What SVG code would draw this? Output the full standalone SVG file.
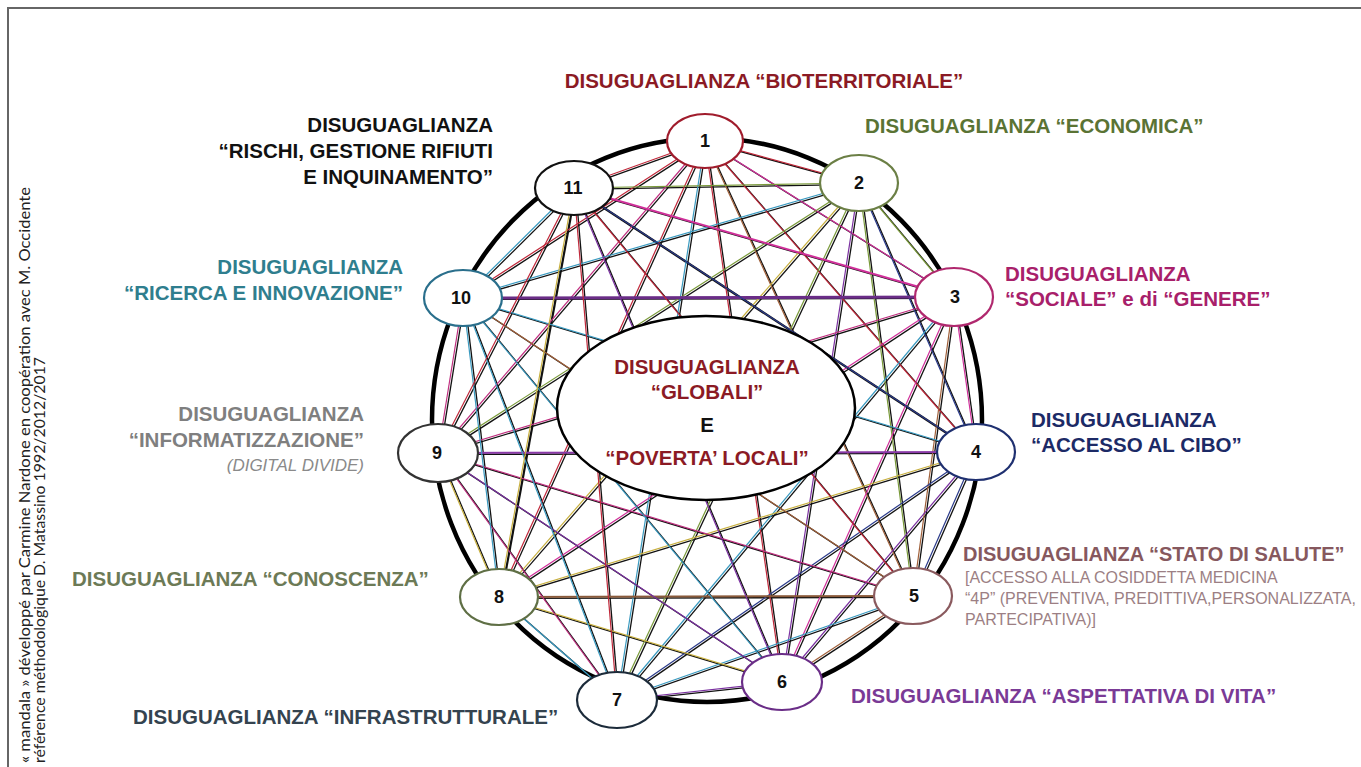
<svg xmlns="http://www.w3.org/2000/svg" width="1361" height="767" viewBox="0 0 1361 767">
<style>
.lbl{font-family:"Liberation Sans",Arial,sans-serif;font-weight:bold;font-size:20.5px}
.sub{font-family:"Liberation Sans",Arial,sans-serif;font-size:16px}
.num{font-family:"Liberation Sans",Arial,sans-serif;font-weight:bold;font-size:18px;fill:#111;text-anchor:middle}
.node{fill:#fff;stroke-width:2.2}
.credit{font-family:Lato,"Open Sans",sans-serif;font-size:15.5px;fill:#222}
#colored line{stroke-width:1.2;fill:none}
#black line{stroke:#111;stroke-width:1.3;fill:none}
.cr{stroke:#c0283a}.cg{stroke:#7a9a3a}.cm{stroke:#d0309a}.cn{stroke:#2a3a8a}.cb{stroke:#a0603a}
.cp{stroke:#7a30a0}.ct{stroke:#3a9ac0}.cy{stroke:#c8b040}.ck{stroke:#c03080}
</style>
<rect x="0" y="0" width="1361" height="767" fill="#fff"/>
<path d="M8 767 V8 H1361" fill="none" stroke="#666" stroke-width="2"/>

<g id="credit">
<text class="credit" transform="translate(30,763) rotate(-90)" textLength="576" lengthAdjust="spacingAndGlyphs">« mandala » développé par Carmine Nardone en coopération avec M. Occidente</text>
<text class="credit" transform="translate(45,763) rotate(-90)" textLength="406" lengthAdjust="spacingAndGlyphs">référence méthodologique D. Matassino 1992/2012/2017</text>
</g>

<ellipse id="ring" cx="707" cy="420" rx="275" ry="282" fill="none" stroke="#000" stroke-width="4.5"/>

<g id="connectors">
<g id="black" transform="translate(1.8,1.4)">
<line x1="705" y1="141" x2="859" y2="183"/><line x1="705" y1="141" x2="954" y2="297"/><line x1="705" y1="141" x2="976" y2="452"/><line x1="705" y1="141" x2="913" y2="596"/><line x1="705" y1="141" x2="782" y2="682"/><line x1="705" y1="141" x2="617" y2="700"/><line x1="705" y1="141" x2="499" y2="597"/><line x1="705" y1="141" x2="438" y2="453"/><line x1="705" y1="141" x2="463" y2="298"/><line x1="705" y1="141" x2="574" y2="188"/>
<line x1="859" y1="183" x2="954" y2="297"/><line x1="859" y1="183" x2="976" y2="452"/><line x1="859" y1="183" x2="913" y2="596"/><line x1="859" y1="183" x2="782" y2="682"/><line x1="859" y1="183" x2="617" y2="700"/><line x1="859" y1="183" x2="499" y2="597"/><line x1="859" y1="183" x2="438" y2="453"/><line x1="859" y1="183" x2="463" y2="298"/><line x1="859" y1="183" x2="574" y2="188"/>
<line x1="954" y1="297" x2="976" y2="452"/><line x1="954" y1="297" x2="913" y2="596"/><line x1="954" y1="297" x2="782" y2="682"/><line x1="954" y1="297" x2="617" y2="700"/><line x1="954" y1="297" x2="499" y2="597"/><line x1="954" y1="297" x2="438" y2="453"/><line x1="954" y1="297" x2="463" y2="298"/><line x1="954" y1="297" x2="574" y2="188"/>
<line x1="976" y1="452" x2="913" y2="596"/><line x1="976" y1="452" x2="782" y2="682"/><line x1="976" y1="452" x2="617" y2="700"/><line x1="976" y1="452" x2="499" y2="597"/><line x1="976" y1="452" x2="438" y2="453"/><line x1="976" y1="452" x2="463" y2="298"/><line x1="976" y1="452" x2="574" y2="188" style="stroke-width:2.4"/>
<line x1="913" y1="596" x2="782" y2="682"/><line x1="913" y1="596" x2="617" y2="700"/><line x1="913" y1="596" x2="499" y2="597"/><line x1="913" y1="596" x2="438" y2="453"/><line x1="913" y1="596" x2="463" y2="298"/><line x1="913" y1="596" x2="574" y2="188"/>
<line x1="782" y1="682" x2="617" y2="700"/><line x1="782" y1="682" x2="499" y2="597"/><line x1="782" y1="682" x2="438" y2="453"/><line x1="782" y1="682" x2="463" y2="298"/><line x1="782" y1="682" x2="574" y2="188"/>
<line x1="617" y1="700" x2="499" y2="597"/><line x1="617" y1="700" x2="438" y2="453"/><line x1="617" y1="700" x2="463" y2="298"/><line x1="617" y1="700" x2="574" y2="188"/>
<line x1="499" y1="597" x2="438" y2="453"/><line x1="499" y1="597" x2="463" y2="298"/><line x1="499" y1="597" x2="574" y2="188" style="stroke-width:2.2"/>
<line x1="438" y1="453" x2="463" y2="298"/><line x1="438" y1="453" x2="574" y2="188"/>
<line x1="463" y1="298" x2="574" y2="188"/>
</g>
<g id="colored">
<line class="cr" x1="705" y1="141" x2="859" y2="183"/><line class="cm" x1="705" y1="141" x2="954" y2="297"/><line class="cr" x1="705" y1="141" x2="976" y2="452"/><line class="cb" x1="705" y1="141" x2="913" y2="596"/><line class="cr" x1="705" y1="141" x2="782" y2="682"/><line class="ct" x1="705" y1="141" x2="617" y2="700"/><line class="cr" x1="705" y1="141" x2="499" y2="597"/><line class="ck" x1="705" y1="141" x2="438" y2="453"/><line class="cr" x1="705" y1="141" x2="463" y2="298"/><line class="cr" x1="705" y1="141" x2="574" y2="188"/>
<line class="cg" x1="859" y1="183" x2="954" y2="297"/><line class="cn" x1="859" y1="183" x2="976" y2="452"/><line class="cg" x1="859" y1="183" x2="913" y2="596"/><line class="cp" x1="859" y1="183" x2="782" y2="682"/><line class="cg" x1="859" y1="183" x2="617" y2="700"/><line class="cy" x1="859" y1="183" x2="499" y2="597"/><line class="cg" x1="859" y1="183" x2="438" y2="453"/><line class="ct" x1="859" y1="183" x2="463" y2="298"/><line class="cg" x1="859" y1="183" x2="574" y2="188"/>
<line class="cm" x1="954" y1="297" x2="976" y2="452"/><line class="cb" x1="954" y1="297" x2="913" y2="596"/><line class="cm" x1="954" y1="297" x2="782" y2="682"/><line class="ct" x1="954" y1="297" x2="617" y2="700"/><line class="cm" x1="954" y1="297" x2="499" y2="597"/><line class="ck" x1="954" y1="297" x2="438" y2="453"/><line x1="954" y1="297" x2="463" y2="298" style="stroke:#6a2d87;stroke-width:3"/><line class="cm" x1="954" y1="297" x2="574" y2="188" style="stroke-width:2"/>
<line class="cn" x1="976" y1="452" x2="913" y2="596"/><line class="cp" x1="976" y1="452" x2="782" y2="682"/><line class="cn" x1="976" y1="452" x2="617" y2="700"/><line class="cy" x1="976" y1="452" x2="499" y2="597"/><line x1="976" y1="452" x2="438" y2="453" style="stroke:#8a3aa8;stroke-width:2"/><line class="ct" x1="976" y1="452" x2="463" y2="298"/><line class="cn" x1="976" y1="452" x2="574" y2="188"/>
<line class="cb" x1="913" y1="596" x2="782" y2="682"/><line class="ct" x1="913" y1="596" x2="617" y2="700"/><line x1="913" y1="596" x2="499" y2="597" style="stroke:#8a5a3a;stroke-width:2"/><line class="ck" x1="913" y1="596" x2="438" y2="453"/><line class="cb" x1="913" y1="596" x2="463" y2="298"/><line class="cr" x1="913" y1="596" x2="574" y2="188"/>
<line class="cp" x1="782" y1="682" x2="617" y2="700"/><line class="cy" x1="782" y1="682" x2="499" y2="597"/><line class="cp" x1="782" y1="682" x2="438" y2="453"/><line class="ct" x1="782" y1="682" x2="463" y2="298"/><line class="cp" x1="782" y1="682" x2="574" y2="188"/>
<line class="ct" x1="617" y1="700" x2="499" y2="597"/><line class="ck" x1="617" y1="700" x2="438" y2="453"/><line class="ct" x1="617" y1="700" x2="463" y2="298"/><line class="cr" x1="617" y1="700" x2="574" y2="188"/>
<line class="cy" x1="499" y1="597" x2="438" y2="453"/><line class="ct" x1="499" y1="597" x2="463" y2="298"/><line class="cy" x1="499" y1="597" x2="574" y2="188"/>
<line class="ck" x1="438" y1="453" x2="463" y2="298"/><line class="cr" x1="438" y1="453" x2="574" y2="188"/>
<line class="ct" x1="463" y1="298" x2="574" y2="188"/>
</g>
</g>

<g id="center">
<ellipse cx="706" cy="408" rx="149" ry="92" fill="#fff" stroke="#000" stroke-width="2.5"/>
<text class="lbl" x="707" y="374" text-anchor="middle" fill="#8b1a24">DISUGUAGLIANZA</text>
<text class="lbl" x="707" y="399" text-anchor="middle" fill="#8b1a24">“GLOBALI”</text>
<text class="lbl" x="707" y="432" text-anchor="middle" fill="#111">E</text>
<text class="lbl" x="707" y="465" text-anchor="middle" fill="#8b1a24">“POVERTA’ LOCALI”</text>
</g>

<g id="n1"><ellipse class="node" cx="705" cy="141" rx="38" ry="27" stroke="#a01c2c"/><text class="num" x="705" y="147">1</text></g>
<g id="n2"><ellipse class="node" cx="859" cy="183" rx="39" ry="28" stroke="#6b7f45"/><text class="num" x="859" y="189">2</text></g>
<g id="n3"><ellipse class="node" cx="954" cy="297" rx="39" ry="29" stroke="#b0286e"/><text class="num" x="955" y="303">3</text></g>
<g id="n4"><ellipse class="node" cx="976" cy="452" rx="39" ry="28" stroke="#1f3070"/><text class="num" x="976" y="458">4</text></g>
<g id="n5"><ellipse class="node" cx="913" cy="596" rx="39" ry="28" stroke="#8a5a5e"/><text class="num" x="914" y="602">5</text></g>
<g id="n6"><ellipse class="node" cx="782" cy="682" rx="40" ry="28" stroke="#6a2d87"/><text class="num" x="782" y="688">6</text></g>
<g id="n7"><ellipse class="node" cx="617" cy="700" rx="40" ry="28" stroke="#1c2b3a"/><text class="num" x="617" y="706">7</text></g>
<g id="n8"><ellipse class="node" cx="499" cy="597" rx="39" ry="28" stroke="#5f6f45"/><text class="num" x="499" y="603">8</text></g>
<g id="n9"><ellipse class="node" cx="438" cy="453" rx="40" ry="29" stroke="#333"/><text class="num" x="437" y="459">9</text></g>
<g id="n10"><ellipse class="node" cx="463" cy="298" rx="39" ry="28" stroke="#2a6f8c"/><text class="num" x="461" y="304">10</text></g>
<g id="n11"><ellipse class="node" cx="574" cy="188" rx="39" ry="27" stroke="#111"/><text class="num" x="573" y="194">11</text></g>

<g id="labels">
<text class="lbl" x="764" y="88" text-anchor="middle" fill="#8b1a24">DISUGUAGLIANZA “BIOTERRITORIALE”</text>
<text class="lbl" x="865" y="133" fill="#5a7334">DISUGUAGLIANZA “ECONOMICA”</text>
<text class="lbl" text-anchor="end" fill="#111"><tspan x="493" y="132">DISUGUAGLIANZA</tspan><tspan x="493" y="158">“RISCHI, GESTIONE RIFIUTI</tspan><tspan x="493" y="184">E INQUINAMENTO”</tspan></text>
<text class="lbl" text-anchor="end" fill="#2f7e8e"><tspan x="403" y="274">DISUGUAGLIANZA</tspan><tspan x="403" y="300">“RICERCA E INNOVAZIONE”</tspan></text>
<text class="lbl" fill="#a8206a"><tspan x="1005" y="281">DISUGUAGLIANZA</tspan><tspan x="1005" y="306">“SOCIALE” e di “GENERE”</tspan></text>
<text class="lbl" fill="#1c2a66"><tspan x="1031" y="427">DISUGUAGLIANZA</tspan><tspan x="1031" y="452">“ACCESSO AL CIBO”</tspan></text>
<text class="lbl" text-anchor="end" fill="#7f7f7f"><tspan x="364" y="421">DISUGUAGLIANZA</tspan><tspan x="364" y="447">“INFORMATIZZAZIONE”</tspan></text>
<text class="sub" x="364" y="471" text-anchor="end" fill="#8a8a8a" font-style="italic" style="font-size:17px">(DIGITAL DIVIDE)</text>
<text class="lbl" x="963" y="561" fill="#86585e" style="font-size:20px">DISUGUAGLIANZA “STATO DI SALUTE”</text>
<text class="sub" fill="#9c7f84"><tspan x="965" y="583">[ACCESSO ALLA COSIDDETTA MEDICINA</tspan><tspan x="965" y="604">“4P” (PREVENTIVA, PREDITTIVA,PERSONALIZZATA,</tspan><tspan x="965" y="625">PARTECIPATIVA)]</tspan></text>
<text class="lbl" x="72" y="586" fill="#6c7a56">DISUGUAGLIANZA “CONOSCENZA”</text>
<text class="lbl" x="133" y="724" fill="#34434f">DISUGUAGLIANZA “INFRASTRUTTURALE”</text>
<text class="lbl" x="851" y="703" fill="#7a3a96">DISUGUAGLIANZA “ASPETTATIVA DI VITA”</text>
</g>
</svg>
